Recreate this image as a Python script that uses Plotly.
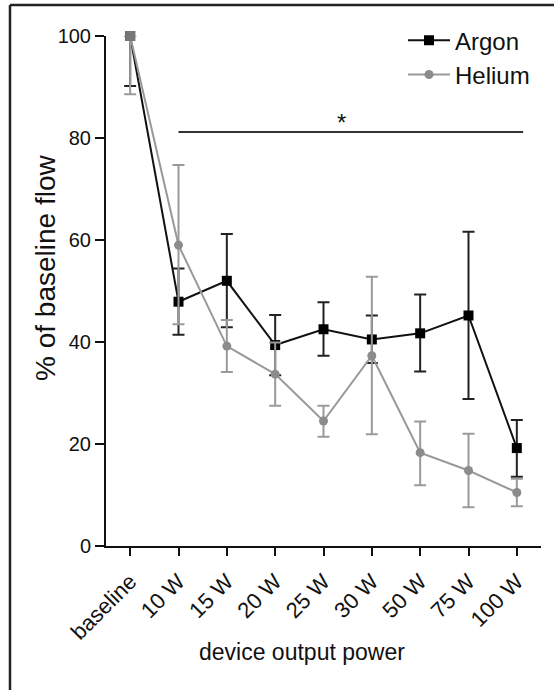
import plotly.graph_objects as go

categories = ["baseline", "10 W", "15 W", "20 W", "25 W", "30 W", "50 W", "75 W", "100 W"]
argon_mean = [100, 47.9, 52.0, 39.4, 42.5, 40.5, 41.7, 45.2, 19.2]
argon_err_plus = [0, 6.5, 9.2, 5.9, 5.3, 4.7, 7.6, 16.4, 5.5]
argon_err_minus = [9.8, 6.5, 9.1, 5.9, 5.2, 4.6, 7.5, 16.4, 5.6]
helium_mean = [100, 59.0, 39.2, 33.7, 24.5, 37.3, 18.3, 14.8, 10.5]
helium_err_plus = [0, 15.7, 5.1, 6.2, 3.0, 15.5, 6.1, 7.2, 2.7]
helium_err_minus = [11.4, 15.5, 5.1, 6.2, 3.1, 15.4, 6.4, 7.2, 2.7]
y_ticks = [0, 20, 40, 60, 80, 100]

# significance bracket (10 W .. 100 W)
sig_start, sig_end, sig_level, sig_label = 1, 8.13, 81.2, "*"

FONT = "Liberation Sans, Arial, Helvetica, sans-serif"
xi = list(range(len(categories)))

fig = go.Figure()
fig.add_trace(go.Scatter(
    x=xi, y=argon_mean, name="Argon", mode="lines+markers",
    line=dict(color="#111111", width=2),
    marker=dict(symbol="square", size=10, color="#000000"),
    error_y=dict(type="data", symmetric=False, array=argon_err_plus,
                 arrayminus=argon_err_minus, color="#222222", thickness=2, width=6),
    cliponaxis=False,
))
fig.add_trace(go.Scatter(
    x=xi, y=helium_mean, name="Helium", mode="lines+markers",
    line=dict(color="#999999", width=2),
    marker=dict(symbol="circle", size=9, color="#8c8c8c"),
    error_y=dict(type="data", symmetric=False, array=helium_err_plus,
                 arrayminus=helium_err_minus, color="#9a9a9a", thickness=2, width=6),
    cliponaxis=False,
))
# overlapping baseline point appears as a grey square
fig.add_trace(go.Scatter(
    x=[xi[0]], y=[argon_mean[0]], mode="markers", showlegend=False,
    marker=dict(symbol="square", size=10, color="#777777"),
    cliponaxis=False, hoverinfo="skip",
))

# significance line and star
fig.add_shape(type="line", xref="x", yref="y", x0=sig_start, x1=sig_end,
              y0=sig_level, y1=sig_level, line=dict(color="#333333", width=2))
fig.add_annotation(x=(sig_start + sig_end) / 2 - 0.2, y=sig_level, xref="x", yref="y",
                   text=sig_label, showarrow=False, yanchor="bottom",
                   font=dict(family=FONT, size=24, color="#111111"), yshift=-6)

# outer frame (top and left edges visible)
fig.add_shape(type="line", xref="paper", yref="paper", x0=-0.2207, x1=1.2,
              y0=1.0608, y1=1.0608, line=dict(color="#222222", width=2.5))
fig.add_shape(type="line", xref="paper", yref="paper", x0=-0.2207, x1=-0.2207,
              y0=1.0608, y1=-0.4, line=dict(color="#222222", width=2.5))

# axis titles as annotations
fig.add_annotation(text="% of baseline flow", xref="paper", yref="paper",
                   x=(45 - 106) / 435, y=(546 - 268) / 510, textangle=-90,
                   showarrow=False, xanchor="center", yanchor="middle",
                   font=dict(family=FONT, size=28, color="#111111"))
fig.add_annotation(text="device output power", xref="paper", yref="paper",
                   x=(302 - 106) / 435, y=(546 - 652) / 510,
                   showarrow=False, xanchor="center", yanchor="middle",
                   font=dict(family=FONT, size=23, color="#111111"))

fig.update_xaxes(
    range=[-0.5, 8.5], tickmode="array", tickvals=xi, ticktext=categories,
    tickangle=-45, ticks="outside", ticklen=8, tickwidth=2, tickcolor="#111111",
    showline=True, linecolor="#111111", linewidth=2, showgrid=False, zeroline=False,
    tickfont=dict(family=FONT, size=22, color="#111111"), ticklabelstandoff=4,
)
fig.update_yaxes(
    range=[0, 100], tickmode="array", tickvals=y_ticks,
    ticks="outside", ticklen=9, tickwidth=2, tickcolor="#111111",
    showline=True, linecolor="#111111", linewidth=2, showgrid=False, zeroline=False,
    tickfont=dict(family=FONT, size=20, color="#111111"),
)
fig.update_layout(
    width=554, height=690,
    margin=dict(l=106, r=13, t=36, b=144),
    paper_bgcolor="white", plot_bgcolor="white",
    showlegend=True,
    legend=dict(x=(403 - 106) / 435, y=1.035, xanchor="left", yanchor="top",
                bgcolor="rgba(0,0,0,0)", font=dict(family=FONT, size=24, color="#111111"),
                itemwidth=42),
)
fig.write_html("out.html")
